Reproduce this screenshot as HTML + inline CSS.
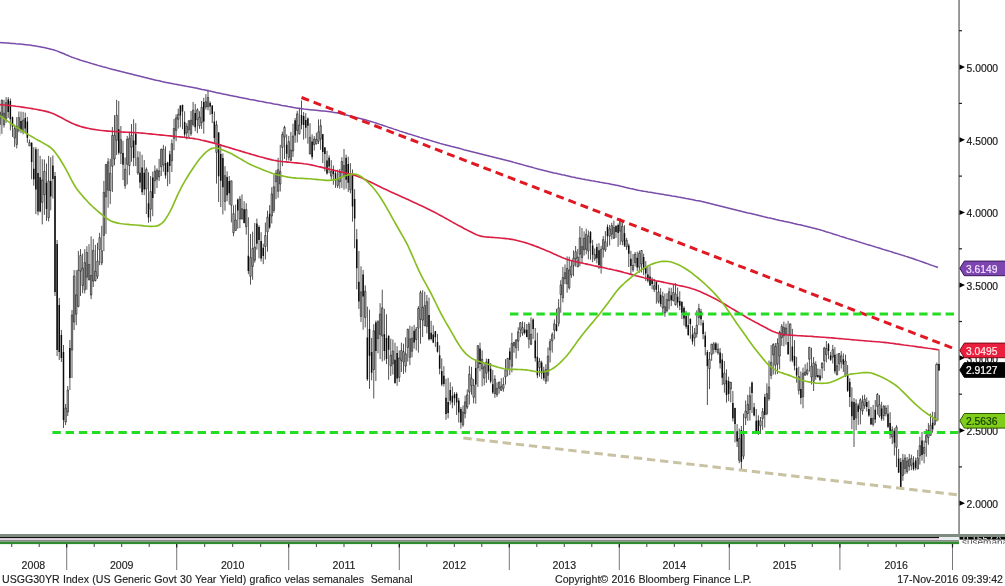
<!DOCTYPE html>
<html><head><meta charset="utf-8"><title>USGG30YR</title><style>
html,body{margin:0;padding:0;background:#fff;width:1005px;height:586px;overflow:hidden}
svg{display:block}
text{font-family:'Liberation Sans',sans-serif}
.ax{font-size:10.3px;fill:#1a1a1a;stroke:#1a1a1a;stroke-width:0.2px}
.lb{font-size:10.3px}
.yr{font-size:10.6px;fill:#222;stroke:#222;stroke-width:0.15px}
.ft{font-size:10.6px;fill:#222;word-spacing:0.4px;stroke:#222;stroke-width:0.15px}
.clip{font-size:8px}
</style></head><body>
<svg width="1005" height="586" viewBox="0 0 1005 586">
<rect width="1005" height="586" fill="#fff"/>
<g clip-path="url(#cp)">
<path d="M-0.25 111.4V135.6M1.88 99.6V133.8M4.00 99.9V127.6M6.12 97.1V122.8M8.25 97.2V117.9M10.38 98.5V130.4M12.50 116.5V136.9M14.62 124.6V146.9M16.75 117.1V148.4M18.88 111.5V132.3M21.00 111.6V133.1M23.12 111.8V134.3M25.25 112.6V132.3M27.38 116.9V142.8M29.50 139.6V145.9M31.62 142.3V179.3M33.75 147.2V185.8M35.88 147.1V214.1M38.00 148.8V215.3M40.12 155.8V212.4M42.25 159.2V224.4M44.38 159.5V214.9M46.50 163.5V220.9M48.62 155.9V221.4M50.75 157.3V210.3M52.88 155.4V198.6M55.00 172.0V296.0M57.12 240.0V356.0M59.25 298.0V360.0M61.38 330.0V362.0M63.50 345.0V428.0M65.62 404.0V425.0M67.75 386.0V416.0M69.88 340.0V390.0M72.00 310.0V378.0M74.12 270.0V330.0M76.25 270.2V325.1M78.38 250.9V307.3M80.50 249.1V296.0M82.62 253.6V293.2M84.75 249.1V293.5M86.88 246.2V289.7M89.00 244.1V280.6M91.12 236.4V299.1M93.25 239.1V287.0M95.38 244.8V281.4M97.50 242.9V279.0M99.62 232.8V265.2M101.75 225.8V265.2M103.88 180.9V251.2M106.00 163.9V233.9M108.12 158.2V207.7M110.25 158.8V204.1M112.38 127.0V192.0M114.50 115.2V165.3M116.62 99.8V155.0M118.75 101.0V154.6M120.88 126.0V164.0M123.00 140.9V180.1M125.12 157.5V188.8M127.25 135.9V184.4M129.38 131.9V175.2M131.50 124.1V161.8M133.62 119.3V166.2M135.75 123.2V166.1M137.88 151.1V174.8M140.00 151.7V188.4M142.12 154.8V195.0M144.25 160.0V195.1M146.38 167.5V214.0M148.50 172.3V222.7M150.62 176.1V221.7M152.75 171.6V216.2M154.88 165.5V193.9M157.00 168.3V188.1M159.12 158.8V181.0M161.25 148.4V176.0M163.38 144.9V171.8M165.50 146.3V178.7M167.62 161.7V186.2M169.75 150.8V183.9M171.88 139.3V172.0M174.00 118.9V150.2M176.12 114.4V141.2M178.25 108.6V128.6M180.38 105.4V127.3M182.50 104.6V129.2M184.62 111.3V137.9M186.75 123.2V139.3M188.88 120.4V138.1M191.00 111.0V135.8M193.12 101.9V126.4M195.25 103.9V131.2M197.38 108.3V133.2M199.50 111.2V128.8M201.62 101.0V128.9M203.75 97.8V133.7M205.88 94.2V109.5M208.00 89.5V110.4M210.12 101.4V114.8M212.25 105.4V123.0M214.38 111.5V142.9M216.50 120.7V183.6M218.62 132.1V202.0M220.75 144.3V207.0M222.88 153.4V214.4M225.00 166.2V210.7M227.12 171.3V201.2M229.25 176.0V204.7M231.38 180.8V222.4M233.50 205.3V236.2M235.62 204.6V230.5M237.75 198.5V228.8M239.88 196.0V228.1M242.00 194.3V219.6M244.12 201.1V223.4M246.25 203.2V234.6M248.38 217.3V274.1M250.50 234.0V284.7M252.62 231.6V279.8M254.75 223.0V262.7M256.88 218.6V249.7M259.00 225.3V258.4M261.12 232.2V261.5M263.25 243.7V264.1M265.38 222.5V259.5M267.50 210.7V251.7M269.62 205.2V228.8M271.75 187.2V223.5M273.88 175.0V212.9M276.00 169.9V199.2M278.12 157.8V197.8M280.25 144.8V191.5M282.38 131.7V166.1M284.50 125.7V159.0M286.62 134.4V160.6M288.75 135.9V160.5M290.88 131.9V161.0M293.00 123.7V156.9M295.12 118.0V142.8M297.25 110.9V142.5M299.38 107.7V134.5M301.50 100.5V129.3M303.62 111.9V139.6M305.75 113.1V138.3M307.88 117.4V143.7M310.00 123.2V154.1M312.12 134.4V159.5M314.25 136.1V150.5M316.38 132.7V144.3M318.50 119.4V144.0M320.62 119.3V149.8M322.75 133.9V163.2M324.88 147.0V171.4M327.00 150.8V174.5M329.12 155.3V173.3M331.25 160.2V179.7M333.38 165.5V184.8M335.50 170.6V187.9M337.62 169.6V188.0M339.75 168.9V188.7M341.88 157.2V187.9M344.00 149.0V189.7M346.12 154.6V188.7M348.25 156.7V191.9M350.38 163.1V193.3M352.50 169.5V221.7M354.62 189.2V248.3M356.75 229.1V289.4M358.88 251.0V308.9M361.00 266.3V322.1M363.12 269.9V329.7M365.25 285.4V327.4M367.38 306.6V380.9M369.50 309.7V388.9M371.62 337.9V380.3M373.75 324.2V398.5M375.88 320.6V381.0M378.00 320.2V353.3M380.12 303.2V359.1M382.25 289.7V361.5M384.38 308.9V360.5M386.50 314.3V364.1M388.62 335.4V379.8M390.75 338.6V375.9M392.88 339.5V374.5M395.00 342.7V383.7M397.12 346.2V385.8M399.25 350.4V382.0M401.38 342.6V372.0M403.50 343.7V374.0M405.62 337.3V372.4M407.75 328.7V361.6M409.88 325.7V365.2M412.00 326.5V357.3M414.12 324.9V348.6M416.25 327.0V350.4M418.38 306.1V352.6M420.50 290.6V343.7M422.62 290.2V337.0M424.75 291.7V326.0M426.88 295.0V333.4M429.00 297.6V340.5M431.12 320.8V340.3M433.25 325.4V343.2M435.38 330.9V346.9M437.50 333.9V352.6M439.62 345.4V374.4M441.75 358.4V386.2M443.88 366.2V386.5M446.00 378.7V419.9M448.12 377.8V418.3M450.25 382.3V404.7M452.38 386.6V408.3M454.50 392.2V405.4M456.62 392.2V415.0M458.75 397.9V422.5M460.88 407.0V428.7M463.00 405.4V426.8M465.12 395.6V418.3M467.25 389.4V409.0M469.38 365.8V404.5M471.50 366.8V394.7M473.62 379.0V403.4M475.75 359.9V403.7M477.88 345.5V386.9M480.00 342.6V371.2M482.12 350.4V386.3M484.25 364.1V385.3M486.38 358.5V382.9M488.50 358.8V379.8M490.62 363.0V383.3M492.75 369.9V393.9M494.88 375.2V397.9M497.00 382.4V396.9M499.12 381.6V393.7M501.25 378.2V391.0M503.38 377.3V391.7M505.50 359.1V384.6M507.62 357.9V376.3M509.75 347.7V375.1M511.88 332.8V372.4M514.00 341.8V352.7M516.12 339.6V358.5M518.25 327.3V350.9M520.38 322.3V337.2M522.50 321.4V335.8M524.62 322.3V334.6M526.75 324.0V337.2M528.88 322.2V348.3M531.00 317.4V345.2M533.12 318.4V339.0M535.25 328.0V361.7M537.38 332.7V378.2M539.50 358.1V376.7M541.62 360.7V379.1M543.75 366.7V380.5M545.88 364.2V384.0M548.00 347.5V381.5M550.12 338.8V362.4M552.25 332.4V352.6M554.38 319.3V339.3M556.50 308.8V331.5M558.62 299.1V326.4M560.75 280.2V312.7M562.88 266.9V302.4M565.00 264.4V284.2M567.12 256.4V292.7M569.25 256.7V289.6M571.38 261.0V277.9M573.50 250.4V276.3M575.62 246.0V266.6M577.75 249.0V267.3M579.88 226.2V266.3M582.00 228.0V262.7M584.12 231.4V255.5M586.25 228.7V254.3M588.38 230.5V259.3M590.50 231.0V259.8M592.62 239.9V262.2M594.75 248.5V260.9M596.88 243.7V263.4M599.00 243.2V269.0M601.12 245.8V273.6M603.25 236.1V257.5M605.38 231.1V251.8M607.50 224.4V246.8M609.62 224.9V245.5M611.75 222.7V239.4M613.88 220.6V238.9M616.00 225.7V237.9M618.12 223.4V246.8M620.25 218.3V244.8M622.38 220.2V245.2M624.50 225.3V247.0M626.62 237.9V249.9M628.75 243.5V267.0M630.88 250.8V274.3M633.00 254.1V271.9M635.12 252.0V266.3M637.25 251.6V270.9M639.38 250.5V272.8M641.50 250.2V272.5M643.62 253.7V275.1M645.75 261.1V281.1M647.88 265.9V282.5M650.00 266.3V285.7M652.12 277.3V289.3M654.25 278.8V292.0M656.38 281.5V303.7M658.50 284.7V303.4M660.62 288.2V306.7M662.75 291.7V313.7M664.88 293.5V316.8M667.00 293.1V312.4M669.12 287.7V309.4M671.25 287.8V306.1M673.38 284.4V301.4M675.50 283.2V305.5M677.62 287.5V307.7M679.75 291.3V310.2M681.88 301.1V319.0M684.00 306.3V325.6M686.12 310.8V328.8M688.25 313.0V335.8M690.38 318.6V338.9M692.50 325.8V344.6M694.62 328.0V346.4M696.75 310.4V337.5M698.88 303.8V325.2M701.00 308.9V325.5M703.12 320.2V339.2M705.25 331.7V355.4M707.38 350.0V405.0M709.50 352.0V389.1M711.62 343.9V360.8M713.75 342.1V353.8M715.88 342.0V352.5M718.00 343.4V354.7M720.12 348.0V368.5M722.25 353.3V385.1M724.38 361.0V392.7M726.50 369.3V402.6M728.62 376.7V401.2M730.75 381.8V402.4M732.88 391.0V421.4M735.00 407.7V442.3M737.12 424.1V447.0M739.25 428.6V463.2M741.38 426.0V470.0M743.50 413.6V459.4M745.62 400.5V425.0M747.75 394.8V420.9M749.88 386.7V420.6M752.00 381.6V413.1M754.12 402.9V416.4M756.25 409.0V433.1M758.38 415.3V434.9M760.50 417.0V433.9M762.62 408.0V429.8M764.75 393.8V427.6M766.88 383.3V415.2M769.00 360.5V400.7M771.12 345.1V379.1M773.25 343.2V374.5M775.38 343.0V374.5M777.50 338.4V374.0M779.62 330.7V369.3M781.75 324.1V345.9M783.88 321.6V346.4M786.00 323.6V344.7M788.12 320.9V354.7M790.25 323.8V361.5M792.38 328.9V362.3M794.50 340.1V370.4M796.62 356.8V382.7M798.75 366.7V394.5M800.88 371.4V404.4M803.00 367.6V408.3M805.12 364.2V375.9M807.25 362.4V375.5M809.38 347.2V371.7M811.50 347.8V384.5M813.62 357.0V391.0M815.75 361.3V379.8M817.88 368.5V377.5M820.00 368.9V381.3M822.12 362.7V378.3M824.25 346.8V371.0M826.38 341.0V362.4M828.50 343.0V359.2M830.62 351.9V360.9M832.75 344.9V363.5M834.88 347.2V373.5M837.00 353.6V375.1M839.12 353.2V370.8M841.25 351.1V368.5M843.38 353.4V371.9M845.50 354.7V377.1M847.62 365.0V391.9M849.75 378.3V407.0M851.88 387.3V429.2M854.00 398.0V447.0M856.12 399.3V430.3M858.25 403.4V424.9M860.38 398.3V424.4M862.50 395.3V414.6M864.62 394.6V408.9M866.75 397.3V411.6M868.88 400.6V416.8M871.00 406.9V424.7M873.12 404.9V426.4M875.25 400.1V423.1M877.38 393.0V414.7M879.50 395.1V417.6M881.62 401.9V420.8M883.75 405.2V420.6M885.88 405.4V416.4M888.00 405.1V428.0M890.12 412.2V438.7M892.25 426.4V444.2M894.38 428.2V455.5M896.50 425.2V467.1M898.62 448.9V473.0M900.75 458.0V489.0M902.88 453.9V480.8M905.00 454.4V474.2M907.12 457.0V473.7M909.25 453.9V470.6M911.38 454.7V470.2M913.50 456.3V470.6M915.62 457.6V470.3M917.75 449.9V469.1M919.88 436.7V464.6M922.00 432.0V460.7M924.12 440.5V463.3M926.25 429.0V456.7M928.38 423.1V444.8M930.50 413.7V435.4M932.62 411.7V432.7M934.75 412.1V425.6M936.88 362.5V421.5M939.00 349.4V370.7" stroke="#333" stroke-width="0.85" fill="none"/>
<path d="M-0.95 112.3h1.4V124.6h-1.4ZM1.18 100.3h1.4V115.8h-1.4ZM3.30 113.2h1.4V124.8h-1.4ZM5.42 102.6h1.4V118.8h-1.4ZM13.93 128.6h1.4V138.0h-1.4ZM16.05 126.6h1.4V144.4h-1.4ZM18.18 117.6h1.4V130.1h-1.4ZM22.43 120.1h1.4V131.7h-1.4ZM28.80 142.7h1.4V145.9h-1.4ZM41.55 180.0h1.4V202.4h-1.4ZM43.67 171.4h1.4V194.6h-1.4ZM47.92 181.0h1.4V217.8h-1.4ZM64.92 408.0h1.4V422.0h-1.4ZM67.05 390.0h1.4V412.0h-1.4ZM71.30 315.0h1.4V350.0h-1.4ZM73.42 276.0h1.4V322.0h-1.4ZM75.55 294.8h1.4V314.2h-1.4ZM77.67 270.1h1.4V306.4h-1.4ZM79.80 255.5h1.4V271.0h-1.4ZM81.92 268.0h1.4V285.5h-1.4ZM84.05 262.6h1.4V289.8h-1.4ZM86.17 252.5h1.4V277.1h-1.4ZM88.30 264.5h1.4V279.5h-1.4ZM90.42 275.5h1.4V295.0h-1.4ZM92.55 250.4h1.4V281.1h-1.4ZM94.67 271.2h1.4V280.6h-1.4ZM96.80 261.0h1.4V276.3h-1.4ZM98.92 237.7h1.4V249.6h-1.4ZM101.05 250.8h1.4V262.8h-1.4ZM103.17 192.4h1.4V235.4h-1.4ZM105.30 164.6h1.4V196.8h-1.4ZM107.42 161.9h1.4V190.1h-1.4ZM109.55 173.3h1.4V190.6h-1.4ZM111.67 135.5h1.4V166.3h-1.4ZM113.80 135.2h1.4V159.0h-1.4ZM115.92 115.3h1.4V140.3h-1.4ZM120.17 139.7h1.4V153.2h-1.4ZM124.42 169.3h1.4V185.5h-1.4ZM126.55 139.3h1.4V164.2h-1.4ZM128.68 138.3h1.4V165.6h-1.4ZM130.80 135.3h1.4V147.1h-1.4ZM137.18 157.8h1.4V173.0h-1.4ZM145.68 169.5h1.4V189.0h-1.4ZM149.93 191.6h1.4V209.2h-1.4ZM154.18 171.4h1.4V180.8h-1.4ZM156.30 170.2h1.4V179.1h-1.4ZM158.43 170.9h1.4V176.6h-1.4ZM160.55 149.5h1.4V166.7h-1.4ZM162.68 149.3h1.4V165.0h-1.4ZM171.18 143.7h1.4V160.7h-1.4ZM173.30 128.5h1.4V138.3h-1.4ZM175.43 117.9h1.4V130.5h-1.4ZM177.55 114.3h1.4V119.3h-1.4ZM186.05 126.3h1.4V132.9h-1.4ZM188.18 120.7h1.4V129.7h-1.4ZM190.30 120.2h1.4V133.6h-1.4ZM192.43 110.1h1.4V124.4h-1.4ZM196.68 109.9h1.4V119.7h-1.4ZM198.80 117.2h1.4V126.0h-1.4ZM200.93 107.3h1.4V122.6h-1.4ZM205.18 101.7h1.4V106.8h-1.4ZM207.30 97.5h1.4V106.7h-1.4ZM215.80 124.9h1.4V152.4h-1.4ZM224.30 175.7h1.4V201.4h-1.4ZM230.68 180.8h1.4V205.2h-1.4ZM232.80 213.6h1.4V232.8h-1.4ZM234.93 220.0h1.4V230.5h-1.4ZM239.18 199.0h1.4V219.0h-1.4ZM241.30 208.8h1.4V218.9h-1.4ZM245.55 209.6h1.4V226.7h-1.4ZM249.80 257.6h1.4V276.3h-1.4ZM251.93 248.5h1.4V266.4h-1.4ZM254.05 247.0h1.4V260.2h-1.4ZM264.68 235.5h1.4V246.6h-1.4ZM266.80 217.2h1.4V231.9h-1.4ZM271.05 193.9h1.4V216.0h-1.4ZM273.18 186.8h1.4V210.4h-1.4ZM275.30 173.1h1.4V181.7h-1.4ZM277.43 169.7h1.4V191.3h-1.4ZM279.55 171.6h1.4V184.0h-1.4ZM281.68 134.5h1.4V147.3h-1.4ZM283.80 127.4h1.4V137.2h-1.4ZM288.05 141.7h1.4V157.3h-1.4ZM290.18 150.1h1.4V160.2h-1.4ZM292.30 136.0h1.4V151.0h-1.4ZM296.55 113.9h1.4V130.4h-1.4ZM298.68 125.0h1.4V133.9h-1.4ZM309.30 137.3h1.4V154.1h-1.4ZM313.55 138.9h1.4V144.7h-1.4ZM315.68 139.4h1.4V144.0h-1.4ZM317.80 131.7h1.4V141.3h-1.4ZM319.93 125.7h1.4V139.1h-1.4ZM330.55 171.2h1.4V176.1h-1.4ZM336.93 179.6h1.4V185.5h-1.4ZM339.05 172.2h1.4V181.9h-1.4ZM341.18 161.5h1.4V170.2h-1.4ZM343.30 165.6h1.4V176.3h-1.4ZM349.68 174.0h1.4V189.7h-1.4ZM360.30 291.9h1.4V316.4h-1.4ZM364.55 291.3h1.4V317.4h-1.4ZM373.05 330.8h1.4V369.5h-1.4ZM377.30 321.7h1.4V338.5h-1.4ZM379.43 314.1h1.4V334.4h-1.4ZM381.55 307.8h1.4V336.0h-1.4ZM390.05 355.2h1.4V365.9h-1.4ZM392.18 351.1h1.4V363.8h-1.4ZM398.55 358.0h1.4V377.4h-1.4ZM400.68 350.5h1.4V360.4h-1.4ZM402.80 351.7h1.4V361.9h-1.4ZM404.93 353.9h1.4V366.1h-1.4ZM407.05 329.3h1.4V347.4h-1.4ZM409.18 338.8h1.4V357.4h-1.4ZM411.30 338.2h1.4V351.2h-1.4ZM415.55 329.4h1.4V339.6h-1.4ZM417.68 308.5h1.4V328.2h-1.4ZM419.80 292.7h1.4V319.5h-1.4ZM421.93 307.4h1.4V320.1h-1.4ZM424.05 305.6h1.4V325.9h-1.4ZM426.18 301.7h1.4V326.4h-1.4ZM462.30 412.1h1.4V424.9h-1.4ZM464.43 401.9h1.4V413.4h-1.4ZM466.55 394.8h1.4V407.1h-1.4ZM468.68 374.2h1.4V392.1h-1.4ZM470.80 378.2h1.4V385.4h-1.4ZM472.93 385.3h1.4V397.3h-1.4ZM477.18 345.6h1.4V367.8h-1.4ZM481.43 359.3h1.4V368.8h-1.4ZM483.55 366.8h1.4V378.1h-1.4ZM485.68 362.0h1.4V373.2h-1.4ZM494.18 379.1h1.4V393.6h-1.4ZM496.30 388.4h1.4V394.6h-1.4ZM498.43 382.1h1.4V388.1h-1.4ZM500.55 386.6h1.4V390.3h-1.4ZM502.68 384.6h1.4V388.4h-1.4ZM504.80 370.0h1.4V377.0h-1.4ZM506.93 358.4h1.4V369.5h-1.4ZM511.18 343.5h1.4V366.2h-1.4ZM513.30 342.5h1.4V345.7h-1.4ZM515.42 339.8h1.4V347.8h-1.4ZM517.55 331.8h1.4V341.2h-1.4ZM519.67 322.6h1.4V330.0h-1.4ZM521.80 327.6h1.4V333.2h-1.4ZM528.17 324.3h1.4V339.2h-1.4ZM530.30 334.3h1.4V344.2h-1.4ZM538.80 361.4h1.4V367.6h-1.4ZM545.17 369.6h1.4V381.2h-1.4ZM547.30 356.1h1.4V375.2h-1.4ZM549.42 341.7h1.4V349.9h-1.4ZM551.55 334.6h1.4V340.9h-1.4ZM553.67 323.8h1.4V330.1h-1.4ZM557.92 307.8h1.4V323.3h-1.4ZM560.05 285.0h1.4V294.5h-1.4ZM562.17 277.6h1.4V297.7h-1.4ZM564.30 272.7h1.4V278.7h-1.4ZM566.42 268.4h1.4V283.7h-1.4ZM568.55 270.0h1.4V287.8h-1.4ZM570.67 266.2h1.4V275.0h-1.4ZM572.80 258.1h1.4V265.6h-1.4ZM574.92 251.7h1.4V258.9h-1.4ZM577.05 257.1h1.4V266.7h-1.4ZM579.17 237.9h1.4V254.1h-1.4ZM581.30 246.6h1.4V257.5h-1.4ZM583.42 238.2h1.4V249.8h-1.4ZM585.55 234.3h1.4V249.2h-1.4ZM587.67 235.9h1.4V251.0h-1.4ZM594.05 254.6h1.4V258.8h-1.4ZM600.42 249.4h1.4V267.1h-1.4ZM602.55 239.6h1.4V249.0h-1.4ZM604.67 241.8h1.4V249.9h-1.4ZM608.92 228.9h1.4V236.1h-1.4ZM611.05 225.7h1.4V234.2h-1.4ZM613.17 227.6h1.4V238.2h-1.4ZM619.55 220.8h1.4V231.1h-1.4ZM621.67 226.2h1.4V241.3h-1.4ZM625.92 240.3h1.4V246.8h-1.4ZM632.30 265.3h1.4V269.8h-1.4ZM634.42 254.3h1.4V262.6h-1.4ZM638.67 253.2h1.4V267.1h-1.4ZM640.80 250.5h1.4V264.0h-1.4ZM653.55 285.8h1.4V289.3h-1.4ZM657.80 291.9h1.4V301.5h-1.4ZM662.05 296.6h1.4V308.0h-1.4ZM664.17 306.8h1.4V312.9h-1.4ZM666.30 299.5h1.4V310.7h-1.4ZM668.42 291.7h1.4V300.8h-1.4ZM672.67 292.5h1.4V300.7h-1.4ZM674.80 293.9h1.4V304.8h-1.4ZM693.92 332.9h1.4V338.0h-1.4ZM696.05 325.3h1.4V333.7h-1.4ZM698.17 308.6h1.4V317.5h-1.4ZM708.80 359.3h1.4V368.6h-1.4ZM710.92 344.1h1.4V354.4h-1.4ZM713.05 343.8h1.4V349.4h-1.4ZM717.30 349.1h1.4V352.8h-1.4ZM723.67 373.1h1.4V384.0h-1.4ZM730.05 382.4h1.4V388.8h-1.4ZM738.55 438.4h1.4V460.2h-1.4ZM742.80 434.6h1.4V456.2h-1.4ZM744.92 411.1h1.4V417.9h-1.4ZM747.05 404.3h1.4V413.5h-1.4ZM749.17 395.7h1.4V409.5h-1.4ZM759.80 420.8h1.4V425.8h-1.4ZM761.92 411.6h1.4V418.5h-1.4ZM766.17 393.7h1.4V413.6h-1.4ZM768.30 387.0h1.4V398.7h-1.4ZM770.42 362.3h1.4V375.4h-1.4ZM772.55 344.4h1.4V355.0h-1.4ZM774.67 346.4h1.4V365.2h-1.4ZM776.80 343.3h1.4V364.2h-1.4ZM778.92 332.4h1.4V356.0h-1.4ZM781.05 326.3h1.4V337.6h-1.4ZM783.17 327.6h1.4V335.9h-1.4ZM785.30 328.0h1.4V334.1h-1.4ZM789.55 323.8h1.4V335.4h-1.4ZM798.05 376.6h1.4V390.4h-1.4ZM802.30 373.4h1.4V396.8h-1.4ZM804.42 372.1h1.4V375.1h-1.4ZM806.55 369.8h1.4V374.0h-1.4ZM808.67 347.2h1.4V359.2h-1.4ZM810.80 366.2h1.4V377.1h-1.4ZM812.92 363.0h1.4V381.2h-1.4ZM815.05 364.7h1.4V376.4h-1.4ZM821.42 362.9h1.4V368.0h-1.4ZM823.55 348.0h1.4V360.8h-1.4ZM825.67 348.4h1.4V354.8h-1.4ZM832.05 349.6h1.4V357.1h-1.4ZM836.30 365.7h1.4V374.9h-1.4ZM838.42 353.5h1.4V363.9h-1.4ZM840.55 355.9h1.4V362.0h-1.4ZM844.80 361.0h1.4V375.3h-1.4ZM855.42 403.8h1.4V417.9h-1.4ZM859.67 399.8h1.4V408.9h-1.4ZM861.80 401.8h1.4V411.0h-1.4ZM863.92 399.2h1.4V405.9h-1.4ZM872.42 418.4h1.4V424.4h-1.4ZM876.67 394.5h1.4V406.4h-1.4ZM878.80 404.7h1.4V415.9h-1.4ZM883.05 406.0h1.4V415.5h-1.4ZM885.17 408.2h1.4V413.5h-1.4ZM891.55 429.8h1.4V437.0h-1.4ZM895.80 427.1h1.4V447.3h-1.4ZM902.17 460.3h1.4V475.4h-1.4ZM904.30 458.1h1.4V468.4h-1.4ZM906.42 461.2h1.4V471.7h-1.4ZM908.55 459.4h1.4V466.3h-1.4ZM910.67 458.5h1.4V465.4h-1.4ZM917.05 457.9h1.4V469.0h-1.4ZM919.17 445.7h1.4V455.9h-1.4ZM923.42 447.4h1.4V453.4h-1.4ZM925.55 435.3h1.4V442.3h-1.4ZM927.67 430.4h1.4V437.5h-1.4ZM929.80 425.3h1.4V435.4h-1.4ZM934.05 418.1h1.4V424.3h-1.4ZM935.67 364.5h2.4V420.0h-2.4Z" fill="#c0c0c0" stroke="#111" stroke-width="0.6"/>
<path d="M7.50 99.6h1.5V111.9h-1.5ZM9.62 100.9h1.5V119.3h-1.5ZM11.75 117.2h1.5V126.8h-1.5ZM20.25 121.1h1.5V130.1h-1.5ZM24.50 118.1h1.5V128.5h-1.5ZM26.62 121.5h1.5V137.7h-1.5ZM30.88 142.7h1.5V161.9h-1.5ZM33.00 168.8h1.5V179.3h-1.5ZM35.12 149.3h1.5V189.4h-1.5ZM37.25 173.1h1.5V211.4h-1.5ZM39.38 177.3h1.5V211.5h-1.5ZM45.75 182.8h1.5V209.0h-1.5ZM50.00 181.1h1.5V196.6h-1.5ZM52.12 165.5h1.5V179.1h-1.5ZM54.25 176.0h1.5V292.0h-1.5ZM56.38 244.0h1.5V350.0h-1.5ZM58.50 305.0h1.5V352.0h-1.5ZM60.62 335.0h1.5V358.0h-1.5ZM62.75 352.0h1.5V420.0h-1.5ZM69.12 348.0h1.5V378.0h-1.5ZM118.00 129.2h1.5V152.8h-1.5ZM122.25 153.1h1.5V164.8h-1.5ZM132.88 140.4h1.5V158.1h-1.5ZM135.00 133.8h1.5V144.8h-1.5ZM139.25 172.7h1.5V182.5h-1.5ZM141.38 167.5h1.5V192.2h-1.5ZM143.50 172.8h1.5V189.6h-1.5ZM147.75 203.2h1.5V217.5h-1.5ZM152.00 177.4h1.5V197.9h-1.5ZM164.75 162.9h1.5V175.4h-1.5ZM166.88 162.5h1.5V172.1h-1.5ZM169.00 154.3h1.5V166.0h-1.5ZM179.62 105.5h1.5V115.4h-1.5ZM181.75 105.0h1.5V111.6h-1.5ZM183.88 122.1h1.5V134.4h-1.5ZM194.50 112.9h1.5V127.2h-1.5ZM203.00 101.9h1.5V121.5h-1.5ZM209.38 102.9h1.5V106.6h-1.5ZM211.50 105.5h1.5V113.9h-1.5ZM213.62 121.6h1.5V138.1h-1.5ZM217.88 132.5h1.5V176.2h-1.5ZM220.00 153.9h1.5V180.8h-1.5ZM222.12 157.9h1.5V187.3h-1.5ZM226.38 177.0h1.5V195.2h-1.5ZM228.50 181.0h1.5V193.3h-1.5ZM237.00 199.4h1.5V210.4h-1.5ZM243.38 209.2h1.5V222.9h-1.5ZM247.62 255.7h1.5V271.0h-1.5ZM256.12 223.5h1.5V243.7h-1.5ZM258.25 227.1h1.5V239.9h-1.5ZM260.38 240.9h1.5V258.6h-1.5ZM262.50 247.8h1.5V256.0h-1.5ZM268.88 213.7h1.5V227.6h-1.5ZM285.88 144.8h1.5V153.7h-1.5ZM294.38 120.2h1.5V135.5h-1.5ZM300.75 115.0h1.5V124.8h-1.5ZM302.88 116.1h1.5V125.1h-1.5ZM305.00 120.0h1.5V127.8h-1.5ZM307.12 118.6h1.5V125.7h-1.5ZM311.38 141.4h1.5V157.1h-1.5ZM322.00 134.2h1.5V152.1h-1.5ZM324.12 147.6h1.5V154.1h-1.5ZM326.25 160.4h1.5V173.4h-1.5ZM328.38 157.7h1.5V166.6h-1.5ZM332.62 168.9h1.5V173.9h-1.5ZM334.75 173.2h1.5V180.2h-1.5ZM345.38 157.8h1.5V179.8h-1.5ZM347.50 164.0h1.5V182.8h-1.5ZM351.75 175.8h1.5V206.5h-1.5ZM353.88 199.0h1.5V218.5h-1.5ZM356.00 239.3h1.5V268.3h-1.5ZM358.12 281.8h1.5V301.6h-1.5ZM362.38 274.4h1.5V296.4h-1.5ZM366.62 337.4h1.5V379.2h-1.5ZM368.75 329.0h1.5V355.7h-1.5ZM370.88 352.0h1.5V372.7h-1.5ZM375.12 322.6h1.5V351.0h-1.5ZM383.62 334.2h1.5V351.1h-1.5ZM385.75 338.0h1.5V358.9h-1.5ZM387.88 335.8h1.5V349.8h-1.5ZM394.25 359.7h1.5V383.1h-1.5ZM396.38 353.0h1.5V378.4h-1.5ZM413.38 330.7h1.5V342.5h-1.5ZM428.25 315.0h1.5V339.2h-1.5ZM430.38 332.8h1.5V338.9h-1.5ZM432.50 334.4h1.5V342.4h-1.5ZM434.62 331.3h1.5V337.3h-1.5ZM436.75 341.9h1.5V351.7h-1.5ZM438.88 355.3h1.5V368.7h-1.5ZM441.00 371.1h1.5V384.5h-1.5ZM443.12 375.8h1.5V384.0h-1.5ZM445.25 397.8h1.5V414.0h-1.5ZM447.38 402.0h1.5V412.9h-1.5ZM449.50 390.0h1.5V400.8h-1.5ZM451.62 395.8h1.5V402.6h-1.5ZM453.75 394.3h1.5V398.3h-1.5ZM455.88 393.7h1.5V402.6h-1.5ZM458.00 400.5h1.5V412.4h-1.5ZM460.12 409.0h1.5V422.5h-1.5ZM475.00 368.1h1.5V384.5h-1.5ZM479.25 348.5h1.5V364.1h-1.5ZM487.75 358.9h1.5V371.6h-1.5ZM489.88 368.7h1.5V381.4h-1.5ZM492.00 384.2h1.5V392.5h-1.5ZM509.00 351.6h1.5V359.7h-1.5ZM523.88 329.5h1.5V333.1h-1.5ZM526.00 329.8h1.5V337.1h-1.5ZM532.38 319.6h1.5V328.9h-1.5ZM534.50 340.5h1.5V358.3h-1.5ZM536.62 356.7h1.5V375.2h-1.5ZM540.88 362.4h1.5V373.5h-1.5ZM543.00 370.7h1.5V378.3h-1.5ZM555.75 324.3h1.5V330.9h-1.5ZM589.75 232.0h1.5V243.3h-1.5ZM591.88 245.4h1.5V254.7h-1.5ZM596.12 247.0h1.5V258.2h-1.5ZM598.25 250.2h1.5V265.0h-1.5ZM606.75 226.8h1.5V236.2h-1.5ZM615.25 225.8h1.5V231.9h-1.5ZM617.38 225.0h1.5V233.1h-1.5ZM623.75 233.2h1.5V245.5h-1.5ZM628.00 245.6h1.5V253.7h-1.5ZM630.12 258.8h1.5V266.0h-1.5ZM636.50 257.7h1.5V267.4h-1.5ZM642.88 256.9h1.5V269.6h-1.5ZM645.00 266.9h1.5V273.6h-1.5ZM647.12 274.6h1.5V280.7h-1.5ZM649.25 276.6h1.5V285.4h-1.5ZM651.38 279.5h1.5V284.1h-1.5ZM655.62 281.6h1.5V289.8h-1.5ZM659.88 294.7h1.5V303.9h-1.5ZM670.50 295.3h1.5V300.3h-1.5ZM676.88 296.7h1.5V302.6h-1.5ZM679.00 301.0h1.5V305.7h-1.5ZM681.12 302.0h1.5V312.7h-1.5ZM683.25 308.0h1.5V318.5h-1.5ZM685.38 316.1h1.5V326.8h-1.5ZM687.50 325.0h1.5V334.9h-1.5ZM689.62 318.8h1.5V324.0h-1.5ZM691.75 334.4h1.5V341.4h-1.5ZM700.25 311.4h1.5V319.3h-1.5ZM702.38 322.8h1.5V333.9h-1.5ZM704.50 335.5h1.5V347.0h-1.5ZM706.62 352.0h1.5V366.0h-1.5ZM715.12 343.4h1.5V349.9h-1.5ZM719.38 352.6h1.5V363.2h-1.5ZM721.50 359.6h1.5V377.7h-1.5ZM725.75 380.3h1.5V395.0h-1.5ZM727.88 380.9h1.5V393.9h-1.5ZM732.12 402.9h1.5V418.2h-1.5ZM734.25 408.1h1.5V423.9h-1.5ZM736.38 431.3h1.5V441.5h-1.5ZM740.62 430.0h1.5V462.0h-1.5ZM751.25 382.4h1.5V393.0h-1.5ZM753.38 407.3h1.5V415.6h-1.5ZM755.50 420.7h1.5V432.9h-1.5ZM757.62 420.3h1.5V432.5h-1.5ZM764.00 396.9h1.5V415.0h-1.5ZM787.38 341.9h1.5V354.3h-1.5ZM791.62 346.5h1.5V360.6h-1.5ZM793.75 356.0h1.5V365.7h-1.5ZM795.88 368.1h1.5V375.5h-1.5ZM800.12 388.9h1.5V398.0h-1.5ZM817.12 374.9h1.5V377.2h-1.5ZM819.25 375.5h1.5V379.8h-1.5ZM827.75 344.3h1.5V351.0h-1.5ZM829.88 355.4h1.5V359.7h-1.5ZM834.12 354.8h1.5V371.3h-1.5ZM842.62 359.2h1.5V364.4h-1.5ZM846.88 374.4h1.5V390.7h-1.5ZM849.00 382.1h1.5V397.0h-1.5ZM851.12 401.5h1.5V416.2h-1.5ZM853.25 402.0h1.5V420.0h-1.5ZM857.50 405.4h1.5V411.8h-1.5ZM866.00 402.1h1.5V407.0h-1.5ZM868.12 409.1h1.5V415.4h-1.5ZM870.25 418.1h1.5V424.6h-1.5ZM874.50 409.8h1.5V419.6h-1.5ZM880.88 408.4h1.5V418.7h-1.5ZM887.25 413.8h1.5V426.7h-1.5ZM889.38 423.0h1.5V434.5h-1.5ZM893.62 431.1h1.5V442.7h-1.5ZM897.88 458.5h1.5V472.6h-1.5ZM900.00 462.0h1.5V488.0h-1.5ZM912.75 462.6h1.5V469.2h-1.5ZM914.88 460.4h1.5V467.7h-1.5ZM921.25 440.6h1.5V455.0h-1.5ZM931.88 422.7h1.5V429.3h-1.5ZM938.25 364.0h1.5V370.5h-1.5Z" fill="#0a0a0a"/>
<polyline points="0.0,42.5 2.0,42.7 4.0,42.8 6.0,43.0 8.0,43.1 10.0,43.3 12.0,43.5 14.0,43.6 16.0,43.8 18.0,43.9 20.0,44.1 22.0,44.3 24.0,44.5 26.0,44.7 28.0,44.9 30.0,45.1 32.0,45.4 34.0,45.7 36.0,46.1 38.0,46.4 40.0,46.8 42.0,47.2 44.0,47.6 46.0,48.0 48.0,48.4 50.0,48.9 52.0,49.4 54.0,50.0 56.0,50.6 58.0,51.4 60.0,52.2 62.0,53.0 64.0,53.8 66.0,54.7 68.0,55.5 70.0,56.4 72.0,57.2 74.0,57.9 76.0,58.6 78.0,59.3 80.0,60.0 82.0,60.6 84.0,61.2 86.0,61.8 88.0,62.4 90.0,63.0 92.0,63.6 94.0,64.2 96.0,64.8 98.0,65.4 100.0,65.9 102.0,66.5 104.0,67.1 106.0,67.6 108.0,68.1 110.0,68.7 112.0,69.2 114.0,69.7 116.0,70.2 118.0,70.7 120.0,71.2 122.0,71.7 124.0,72.2 126.0,72.7 128.0,73.2 130.0,73.7 132.0,74.2 134.0,74.7 136.0,75.2 138.0,75.7 140.0,76.2 142.0,76.7 144.0,77.2 146.0,77.7 148.0,78.2 150.0,78.7 152.0,79.2 154.0,79.7 156.0,80.2 158.0,80.6 160.0,81.1 162.0,81.6 164.0,82.0 166.0,82.4 168.0,82.8 170.0,83.2 172.0,83.6 174.0,84.0 176.0,84.3 178.0,84.7 180.0,85.1 182.0,85.4 184.0,85.8 186.0,86.2 188.0,86.5 190.0,86.9 192.0,87.3 194.0,87.7 196.0,88.1 198.0,88.5 200.0,88.9 202.0,89.4 204.0,89.8 206.0,90.2 208.0,90.7 210.0,91.1 212.0,91.6 214.0,92.0 216.0,92.5 218.0,92.9 220.0,93.3 222.0,93.8 224.0,94.2 226.0,94.6 228.0,95.0 230.0,95.4 232.0,95.8 234.0,96.2 236.0,96.6 238.0,97.0 240.0,97.4 242.0,97.8 244.0,98.2 246.0,98.6 248.0,99.0 250.0,99.4 252.0,99.7 254.0,100.1 256.0,100.5 258.0,100.9 260.0,101.3 262.0,101.6 264.0,102.0 266.0,102.4 268.0,102.8 270.0,103.1 272.0,103.5 274.0,103.9 276.0,104.2 278.0,104.6 280.0,105.0 282.0,105.4 284.0,105.7 286.0,106.1 288.0,106.5 290.0,106.8 292.0,107.2 294.0,107.6 296.0,107.9 298.0,108.2 300.0,108.5 302.0,108.8 304.0,109.1 306.0,109.3 308.0,109.5 310.0,109.7 312.0,109.9 314.0,110.1 316.0,110.3 318.0,110.5 320.0,110.7 322.0,110.9 324.0,111.1 326.0,111.3 328.0,111.5 330.0,111.8 332.0,112.1 334.0,112.4 336.0,112.7 338.0,113.1 340.0,113.6 342.0,114.0 344.0,114.5 346.0,115.0 348.0,115.5 350.0,116.0 352.0,116.5 354.0,117.0 356.0,117.5 358.0,118.0 360.0,118.5 362.0,119.0 364.0,119.5 366.0,120.0 368.0,120.6 370.0,121.2 372.0,121.8 374.0,122.4 376.0,123.0 378.0,123.7 380.0,124.4 382.0,125.0 384.0,125.7 386.0,126.4 388.0,127.1 390.0,127.7 392.0,128.4 394.0,129.1 396.0,129.7 398.0,130.4 400.0,131.1 402.0,131.7 404.0,132.4 406.0,133.0 408.0,133.7 410.0,134.3 412.0,134.9 414.0,135.5 416.0,136.1 418.0,136.7 420.0,137.4 422.0,138.0 424.0,138.6 426.0,139.2 428.0,139.8 430.0,140.4 432.0,141.0 434.0,141.6 436.0,142.2 438.0,142.8 440.0,143.4 442.0,143.9 444.0,144.5 446.0,145.0 448.0,145.5 450.0,146.0 452.0,146.6 454.0,147.1 456.0,147.6 458.0,148.1 460.0,148.6 462.0,149.1 464.0,149.7 466.0,150.2 468.0,150.7 470.0,151.2 472.0,151.7 474.0,152.2 476.0,152.7 478.0,153.2 480.0,153.7 482.0,154.2 484.0,154.7 486.0,155.2 488.0,155.7 490.0,156.3 492.0,156.8 494.0,157.3 496.0,157.8 498.0,158.3 500.0,158.8 502.0,159.3 504.0,159.8 506.0,160.3 508.0,160.8 510.0,161.3 512.0,161.8 514.0,162.4 516.0,162.9 518.0,163.5 520.0,164.0 522.0,164.6 524.0,165.1 526.0,165.7 528.0,166.2 530.0,166.8 532.0,167.3 534.0,167.9 536.0,168.4 538.0,169.0 540.0,169.5 542.0,170.0 544.0,170.5 546.0,171.0 548.0,171.5 550.0,172.0 552.0,172.4 554.0,172.9 556.0,173.3 558.0,173.8 560.0,174.2 562.0,174.7 564.0,175.1 566.0,175.6 568.0,176.0 570.0,176.4 572.0,176.9 574.0,177.3 576.0,177.8 578.0,178.2 580.0,178.6 582.0,179.0 584.0,179.3 586.0,179.7 588.0,180.0 590.0,180.4 592.0,180.8 594.0,181.1 596.0,181.5 598.0,181.8 600.0,182.2 602.0,182.5 604.0,182.9 606.0,183.3 608.0,183.6 610.0,184.0 612.0,184.4 614.0,184.8 616.0,185.2 618.0,185.6 620.0,186.1 622.0,186.5 624.0,187.0 626.0,187.5 628.0,187.9 630.0,188.4 632.0,188.8 634.0,189.3 636.0,189.7 638.0,190.2 640.0,190.6 642.0,190.9 644.0,191.3 646.0,191.6 648.0,192.0 650.0,192.3 652.0,192.6 654.0,192.9 656.0,193.3 658.0,193.6 660.0,193.9 662.0,194.2 664.0,194.6 666.0,194.9 668.0,195.2 670.0,195.5 672.0,195.9 674.0,196.2 676.0,196.6 678.0,197.0 680.0,197.3 682.0,197.7 684.0,198.1 686.0,198.5 688.0,198.8 690.0,199.2 692.0,199.6 694.0,200.0 696.0,200.4 698.0,200.7 700.0,201.1 702.0,201.6 704.0,202.0 706.0,202.4 708.0,202.9 710.0,203.4 712.0,203.9 714.0,204.4 716.0,204.9 718.0,205.4 720.0,205.9 722.0,206.4 724.0,206.9 726.0,207.4 728.0,207.9 730.0,208.4 732.0,208.9 734.0,209.4 736.0,209.9 738.0,210.4 740.0,210.9 742.0,211.4 744.0,211.9 746.0,212.4 748.0,212.9 750.0,213.3 752.0,213.8 754.0,214.3 756.0,214.8 758.0,215.3 760.0,215.8 762.0,216.3 764.0,216.8 766.0,217.2 768.0,217.7 770.0,218.1 772.0,218.6 774.0,219.0 776.0,219.5 778.0,219.9 780.0,220.4 782.0,220.8 784.0,221.3 786.0,221.7 788.0,222.1 790.0,222.6 792.0,223.0 794.0,223.5 796.0,223.9 798.0,224.4 800.0,224.8 802.0,225.3 804.0,225.8 806.0,226.2 808.0,226.7 810.0,227.2 812.0,227.7 814.0,228.2 816.0,228.7 818.0,229.3 820.0,229.8 822.0,230.4 824.0,231.0 826.0,231.7 828.0,232.3 830.0,232.9 832.0,233.5 834.0,234.2 836.0,234.8 838.0,235.4 840.0,236.1 842.0,236.7 844.0,237.3 846.0,238.0 848.0,238.6 850.0,239.2 852.0,239.8 854.0,240.4 856.0,241.0 858.0,241.6 860.0,242.3 862.0,242.9 864.0,243.5 866.0,244.1 868.0,244.7 870.0,245.3 872.0,245.9 874.0,246.5 876.0,247.1 878.0,247.7 880.0,248.3 882.0,249.0 884.0,249.6 886.0,250.2 888.0,250.8 890.0,251.4 892.0,252.0 894.0,252.7 896.0,253.3 898.0,253.9 900.0,254.5 902.0,255.1 904.0,255.7 906.0,256.4 908.0,257.0 910.0,257.7 912.0,258.3 914.0,259.0 916.0,259.7 918.0,260.4 920.0,261.1 922.0,261.8 924.0,262.5 926.0,263.2 928.0,263.9 930.0,264.7 932.0,265.4 934.0,266.1 936.0,266.8 938.0,267.5" fill="none" stroke="#7a4caa" stroke-width="1.5"/>
<polyline points="0.0,104.6 2.0,104.8 4.0,105.0 6.0,105.2 8.0,105.4 10.0,105.6 12.0,105.8 14.0,106.0 16.0,106.3 18.0,106.5 20.0,106.8 22.0,107.1 24.0,107.4 26.0,107.7 28.0,108.0 30.0,108.3 32.0,108.6 34.0,109.0 36.0,109.3 38.0,109.7 40.0,110.1 42.0,110.5 44.0,110.9 46.0,111.4 48.0,111.9 50.0,112.5 52.0,113.2 54.0,114.0 56.0,114.9 58.0,115.9 60.0,116.9 62.0,118.0 64.0,119.1 66.0,120.2 68.0,121.2 70.0,122.2 72.0,123.2 74.0,124.1 76.0,124.9 78.0,125.6 80.0,126.3 82.0,126.9 84.0,127.4 86.0,127.9 88.0,128.3 90.0,128.7 92.0,129.1 94.0,129.4 96.0,129.7 98.0,130.0 100.0,130.3 102.0,130.5 104.0,130.8 106.0,130.9 108.0,131.1 110.0,131.3 112.0,131.4 114.0,131.5 116.0,131.6 118.0,131.8 120.0,131.9 122.0,132.0 124.0,132.1 126.0,132.2 128.0,132.3 130.0,132.4 132.0,132.5 134.0,132.6 136.0,132.7 138.0,132.8 140.0,133.0 142.0,133.1 144.0,133.3 146.0,133.5 148.0,133.7 150.0,133.9 152.0,134.1 154.0,134.3 156.0,134.5 158.0,134.7 160.0,134.9 162.0,135.1 164.0,135.3 166.0,135.5 168.0,135.7 170.0,135.9 172.0,136.1 174.0,136.3 176.0,136.5 178.0,136.7 180.0,136.9 182.0,137.1 184.0,137.3 186.0,137.6 188.0,137.8 190.0,138.1 192.0,138.3 194.0,138.6 196.0,139.0 198.0,139.3 200.0,139.7 202.0,140.2 204.0,140.6 206.0,141.1 208.0,141.6 210.0,142.1 212.0,142.6 214.0,143.1 216.0,143.7 218.0,144.3 220.0,144.9 222.0,145.5 224.0,146.1 226.0,146.7 228.0,147.3 230.0,147.9 232.0,148.5 234.0,149.1 236.0,149.7 238.0,150.3 240.0,150.9 242.0,151.5 244.0,152.1 246.0,152.7 248.0,153.3 250.0,153.9 252.0,154.5 254.0,155.0 256.0,155.6 258.0,156.2 260.0,156.8 262.0,157.3 264.0,157.8 266.0,158.4 268.0,158.9 270.0,159.4 272.0,159.9 274.0,160.3 276.0,160.6 278.0,161.0 280.0,161.2 282.0,161.5 284.0,161.7 286.0,161.9 288.0,162.1 290.0,162.3 292.0,162.5 294.0,162.7 296.0,162.9 298.0,163.1 300.0,163.3 302.0,163.5 304.0,163.8 306.0,164.0 308.0,164.3 310.0,164.7 312.0,165.1 314.0,165.5 316.0,166.0 318.0,166.5 320.0,166.9 322.0,167.4 324.0,167.9 326.0,168.4 328.0,168.9 330.0,169.4 332.0,169.8 334.0,170.3 336.0,170.7 338.0,171.2 340.0,171.6 342.0,172.1 344.0,172.5 346.0,173.0 348.0,173.5 350.0,174.0 352.0,174.5 354.0,175.1 356.0,175.8 358.0,176.5 360.0,177.3 362.0,178.1 364.0,179.0 366.0,179.9 368.0,180.9 370.0,181.8 372.0,182.8 374.0,183.8 376.0,184.8 378.0,185.8 380.0,186.8 382.0,187.8 384.0,188.7 386.0,189.6 388.0,190.5 390.0,191.5 392.0,192.4 394.0,193.3 396.0,194.2 398.0,195.1 400.0,196.0 402.0,196.9 404.0,197.8 406.0,198.7 408.0,199.6 410.0,200.6 412.0,201.5 414.0,202.4 416.0,203.3 418.0,204.3 420.0,205.2 422.0,206.1 424.0,207.0 426.0,207.9 428.0,208.9 430.0,209.9 432.0,210.9 434.0,211.9 436.0,213.0 438.0,214.1 440.0,215.2 442.0,216.3 444.0,217.4 446.0,218.5 448.0,219.6 450.0,220.7 452.0,221.9 454.0,223.0 456.0,224.1 458.0,225.2 460.0,226.2 462.0,227.3 464.0,228.4 466.0,229.4 468.0,230.5 470.0,231.5 472.0,232.5 474.0,233.5 476.0,234.4 478.0,235.2 480.0,235.9 482.0,236.4 484.0,236.7 486.0,237.0 488.0,237.1 490.0,237.3 492.0,237.4 494.0,237.5 496.0,237.7 498.0,237.8 500.0,238.0 502.0,238.2 504.0,238.4 506.0,238.6 508.0,238.8 510.0,239.1 512.0,239.4 514.0,239.8 516.0,240.2 518.0,240.7 520.0,241.2 522.0,241.7 524.0,242.3 526.0,242.9 528.0,243.5 530.0,244.2 532.0,244.9 534.0,245.6 536.0,246.4 538.0,247.1 540.0,247.9 542.0,248.7 544.0,249.6 546.0,250.4 548.0,251.2 550.0,252.1 552.0,253.0 554.0,253.9 556.0,254.8 558.0,255.8 560.0,256.6 562.0,257.5 564.0,258.3 566.0,259.0 568.0,259.6 570.0,260.2 572.0,260.7 574.0,261.2 576.0,261.6 578.0,262.1 580.0,262.6 582.0,263.0 584.0,263.5 586.0,263.9 588.0,264.4 590.0,264.8 592.0,265.2 594.0,265.7 596.0,266.1 598.0,266.6 600.0,267.0 602.0,267.4 604.0,267.8 606.0,268.2 608.0,268.7 610.0,269.1 612.0,269.5 614.0,270.0 616.0,270.4 618.0,270.9 620.0,271.4 622.0,271.9 624.0,272.5 626.0,273.0 628.0,273.5 630.0,274.1 632.0,274.6 634.0,275.1 636.0,275.7 638.0,276.2 640.0,276.7 642.0,277.2 644.0,277.8 646.0,278.3 648.0,278.8 650.0,279.3 652.0,279.7 654.0,280.2 656.0,280.7 658.0,281.1 660.0,281.5 662.0,281.9 664.0,282.4 666.0,282.8 668.0,283.2 670.0,283.6 672.0,284.0 674.0,284.4 676.0,284.8 678.0,285.3 680.0,285.7 682.0,286.1 684.0,286.5 686.0,287.0 688.0,287.5 690.0,288.0 692.0,288.7 694.0,289.3 696.0,290.0 698.0,290.8 700.0,291.6 702.0,292.5 704.0,293.4 706.0,294.3 708.0,295.3 710.0,296.2 712.0,297.2 714.0,298.2 716.0,299.3 718.0,300.4 720.0,301.5 722.0,302.6 724.0,303.8 726.0,305.0 728.0,306.2 730.0,307.4 732.0,308.6 734.0,309.8 736.0,311.0 738.0,312.2 740.0,313.4 742.0,314.6 744.0,315.8 746.0,317.0 748.0,318.2 750.0,319.3 752.0,320.4 754.0,321.5 756.0,322.6 758.0,323.6 760.0,324.7 762.0,325.7 764.0,326.8 766.0,327.8 768.0,328.9 770.0,329.9 772.0,330.9 774.0,331.8 776.0,332.6 778.0,333.3 780.0,333.9 782.0,334.3 784.0,334.6 786.0,334.8 788.0,335.0 790.0,335.1 792.0,335.3 794.0,335.4 796.0,335.5 798.0,335.7 800.0,335.8 802.0,335.9 804.0,336.0 806.0,336.1 808.0,336.2 810.0,336.3 812.0,336.4 814.0,336.6 816.0,336.7 818.0,336.9 820.0,337.0 822.0,337.2 824.0,337.3 826.0,337.5 828.0,337.6 830.0,337.8 832.0,337.9 834.0,338.1 836.0,338.3 838.0,338.5 840.0,338.6 842.0,338.8 844.0,339.0 846.0,339.2 848.0,339.3 850.0,339.5 852.0,339.7 854.0,339.9 856.0,340.0 858.0,340.2 860.0,340.4 862.0,340.5 864.0,340.7 866.0,340.9 868.0,341.0 870.0,341.2 872.0,341.4 874.0,341.5 876.0,341.7 878.0,341.8 880.0,342.0 882.0,342.2 884.0,342.4 886.0,342.6 888.0,342.8 890.0,343.1 892.0,343.3 894.0,343.6 896.0,343.9 898.0,344.1 900.0,344.4 902.0,344.7 904.0,345.0 906.0,345.2 908.0,345.5 910.0,345.8 912.0,346.0 914.0,346.3 916.0,346.6 918.0,346.9 920.0,347.1 922.0,347.4 924.0,347.7 926.0,348.0 928.0,348.3 930.0,348.5 932.0,348.8 934.0,349.1 936.0,349.4 938.0,349.7 938.7,349.8" fill="none" stroke="#dc1e44" stroke-width="1.65"/>
<polyline points="0.0,115.7 2.0,117.1 4.0,118.5 6.0,119.9 8.0,121.3 10.0,122.8 12.0,124.2 14.0,125.5 16.0,126.9 18.0,128.2 20.0,129.5 22.0,130.7 24.0,131.9 26.0,133.2 28.0,134.4 30.0,135.6 32.0,136.8 34.0,137.9 36.0,139.1 38.0,140.2 40.0,141.3 42.0,142.4 44.0,143.5 46.0,144.6 48.0,145.8 50.0,147.2 52.0,148.9 54.0,150.9 56.0,153.4 58.0,156.2 60.0,159.2 62.0,162.5 64.0,165.8 66.0,169.4 68.0,173.2 70.0,177.1 72.0,180.9 74.0,184.5 76.0,187.7 78.0,190.4 80.0,192.9 82.0,195.3 84.0,197.6 86.0,199.8 88.0,202.0 90.0,204.1 92.0,206.0 94.0,207.8 96.0,209.6 98.0,211.3 100.0,213.0 102.0,214.7 104.0,216.3 106.0,217.9 108.0,219.3 110.0,220.5 112.0,221.4 114.0,222.1 116.0,222.6 118.0,223.1 120.0,223.5 122.0,223.8 124.0,224.0 126.0,224.3 128.0,224.4 130.0,224.6 132.0,224.7 134.0,224.9 136.0,225.0 138.0,225.2 140.0,225.4 142.0,225.6 144.0,225.9 146.0,226.1 148.0,226.3 150.0,226.4 152.0,226.4 154.0,226.3 156.0,226.1 158.0,225.6 160.0,224.6 162.0,223.1 164.0,221.1 166.0,218.4 168.0,215.2 170.0,211.6 172.0,207.6 174.0,203.2 176.0,198.7 178.0,194.2 180.0,190.1 182.0,186.2 184.0,182.6 186.0,179.2 188.0,176.0 190.0,172.8 192.0,169.8 194.0,166.8 196.0,163.9 198.0,161.1 200.0,158.6 202.0,156.2 204.0,154.1 206.0,152.2 208.0,150.6 210.0,149.3 212.0,148.4 214.0,148.0 216.0,148.0 218.0,148.4 220.0,149.0 222.0,149.7 224.0,150.5 226.0,151.3 228.0,152.2 230.0,153.1 232.0,154.1 234.0,155.2 236.0,156.3 238.0,157.5 240.0,158.6 242.0,159.8 244.0,161.0 246.0,162.1 248.0,163.2 250.0,164.2 252.0,165.2 254.0,166.1 256.0,166.9 258.0,167.8 260.0,168.6 262.0,169.4 264.0,170.2 266.0,171.0 268.0,171.8 270.0,172.5 272.0,173.3 274.0,173.9 276.0,174.5 278.0,175.0 280.0,175.5 282.0,175.9 284.0,176.3 286.0,176.7 288.0,177.1 290.0,177.4 292.0,177.7 294.0,177.9 296.0,178.1 298.0,178.2 300.0,178.3 302.0,178.4 304.0,178.5 306.0,178.6 308.0,178.7 310.0,178.8 312.0,179.0 314.0,179.2 316.0,179.4 318.0,179.6 320.0,179.8 322.0,180.0 324.0,180.1 326.0,180.3 328.0,180.3 330.0,180.3 332.0,180.2 334.0,179.9 336.0,179.4 338.0,178.7 340.0,177.8 342.0,177.0 344.0,176.2 346.0,175.5 348.0,174.9 350.0,174.4 352.0,174.0 354.0,174.0 356.0,174.3 358.0,175.0 360.0,176.0 362.0,177.3 364.0,178.8 366.0,180.5 368.0,182.4 370.0,184.4 372.0,186.5 374.0,188.8 376.0,191.2 378.0,193.9 380.0,196.8 382.0,200.0 384.0,203.3 386.0,206.6 388.0,210.1 390.0,213.7 392.0,217.3 394.0,220.9 396.0,224.5 398.0,228.0 400.0,231.5 402.0,234.9 404.0,238.4 406.0,242.0 408.0,245.9 410.0,250.3 412.0,254.9 414.0,259.5 416.0,264.2 418.0,268.6 420.0,272.9 422.0,276.9 424.0,280.6 426.0,284.2 428.0,287.8 430.0,291.5 432.0,295.4 434.0,299.4 436.0,303.5 438.0,307.6 440.0,311.6 442.0,315.5 444.0,319.1 446.0,322.6 448.0,326.0 450.0,329.4 452.0,332.9 454.0,336.4 456.0,340.0 458.0,343.3 460.0,346.4 462.0,349.2 464.0,351.6 466.0,353.8 468.0,355.6 470.0,357.1 472.0,358.4 474.0,359.4 476.0,360.3 478.0,361.1 480.0,361.8 482.0,362.5 484.0,363.1 486.0,363.7 488.0,364.3 490.0,364.8 492.0,365.4 494.0,366.0 496.0,366.6 498.0,367.2 500.0,367.7 502.0,368.2 504.0,368.7 506.0,369.0 508.0,369.2 510.0,369.3 512.0,369.3 514.0,369.4 516.0,369.4 518.0,369.5 520.0,369.5 522.0,369.6 524.0,369.7 526.0,369.9 528.0,370.2 530.0,370.5 532.0,370.9 534.0,371.2 536.0,371.6 538.0,371.8 540.0,372.0 542.0,372.0 544.0,371.8 546.0,371.5 548.0,370.9 550.0,370.1 552.0,369.0 554.0,367.7 556.0,366.3 558.0,364.6 560.0,362.8 562.0,360.9 564.0,358.8 566.0,356.7 568.0,354.3 570.0,351.8 572.0,349.1 574.0,346.3 576.0,343.4 578.0,340.6 580.0,337.9 582.0,335.3 584.0,332.8 586.0,330.3 588.0,327.9 590.0,325.5 592.0,323.1 594.0,320.7 596.0,318.3 598.0,315.9 600.0,313.4 602.0,310.8 604.0,308.2 606.0,305.6 608.0,302.9 610.0,300.2 612.0,297.4 614.0,294.7 616.0,292.1 618.0,289.6 620.0,287.4 622.0,285.4 624.0,283.5 626.0,281.7 628.0,280.0 630.0,278.3 632.0,276.7 634.0,275.1 636.0,273.6 638.0,272.1 640.0,270.8 642.0,269.4 644.0,268.2 646.0,267.0 648.0,265.9 650.0,264.9 652.0,264.1 654.0,263.4 656.0,262.7 658.0,262.2 660.0,261.7 662.0,261.4 664.0,261.3 666.0,261.3 668.0,261.5 670.0,261.8 672.0,262.3 674.0,263.0 676.0,263.7 678.0,264.6 680.0,265.5 682.0,266.6 684.0,267.7 686.0,269.0 688.0,270.3 690.0,271.7 692.0,273.2 694.0,274.8 696.0,276.4 698.0,278.0 700.0,279.7 702.0,281.4 704.0,283.2 706.0,285.0 708.0,286.8 710.0,288.8 712.0,290.8 714.0,292.9 716.0,295.1 718.0,297.4 720.0,299.8 722.0,302.2 724.0,304.8 726.0,307.6 728.0,310.4 730.0,313.3 732.0,316.3 734.0,319.2 736.0,322.2 738.0,325.0 740.0,327.9 742.0,330.7 744.0,333.5 746.0,336.3 748.0,339.2 750.0,341.9 752.0,344.7 754.0,347.4 756.0,350.0 758.0,352.6 760.0,355.1 762.0,357.5 764.0,359.9 766.0,362.2 768.0,364.3 770.0,366.1 772.0,367.7 774.0,369.1 776.0,370.3 778.0,371.4 780.0,372.2 782.0,372.9 784.0,373.6 786.0,374.2 788.0,374.9 790.0,375.6 792.0,376.4 794.0,377.2 796.0,378.0 798.0,378.8 800.0,379.5 802.0,380.2 804.0,380.8 806.0,381.3 808.0,381.7 810.0,382.1 812.0,382.5 814.0,382.8 816.0,383.1 818.0,383.2 820.0,383.3 822.0,383.4 824.0,383.3 826.0,383.2 828.0,382.9 830.0,382.5 832.0,381.8 834.0,381.1 836.0,380.2 838.0,379.3 840.0,378.3 842.0,377.2 844.0,376.2 846.0,375.3 848.0,374.7 850.0,374.2 852.0,373.9 854.0,373.7 856.0,373.5 858.0,373.3 860.0,373.0 862.0,372.8 864.0,372.6 866.0,372.5 868.0,372.6 870.0,372.8 872.0,373.3 874.0,373.9 876.0,374.7 878.0,375.5 880.0,376.3 882.0,377.3 884.0,378.3 886.0,379.3 888.0,380.4 890.0,381.5 892.0,382.7 894.0,384.1 896.0,385.5 898.0,387.2 900.0,389.0 902.0,390.9 904.0,392.9 906.0,394.9 908.0,396.9 910.0,398.9 912.0,400.9 914.0,402.8 916.0,404.7 918.0,406.5 920.0,408.2 922.0,409.8 924.0,411.3 926.0,412.8 928.0,414.2 930.0,415.5 932.0,416.8 934.0,418.1 936.0,419.3 938.0,420.6" fill="none" stroke="#86be20" stroke-width="1.65"/>
<line x1="301.5" y1="97.5" x2="955" y2="349" stroke="#e01822" stroke-width="3" stroke-dasharray="8 5"/>
<line x1="52.4" y1="432.4" x2="959" y2="432.4" stroke="#22dd22" stroke-width="3" stroke-dasharray="8.4 4.8"/>
<line x1="510" y1="314" x2="959" y2="314" stroke="#22dd22" stroke-width="3" stroke-dasharray="8.4 4.8"/>
<line x1="463.3" y1="438.1" x2="958.5" y2="494.9" stroke="#c8c2a2" stroke-width="3" stroke-dasharray="8.4 4.8"/>
</g>
<defs><clipPath id="cp"><rect x="0" y="0" width="958.5" height="534"/></clipPath></defs>
<rect x="958.3" y="0" width="1.5" height="535" fill="#7a7a7a"/>
<path d="M959.5 500.6L965 503.2L959.5 505.8Z" fill="#000"/>
<text x="966.6" y="508.1" class="ax">2.0000</text>
<path d="M959.5 427.9L965 430.5L959.5 433.1Z" fill="#000"/>
<text x="966.6" y="435.4" class="ax">2.5000</text>
<path d="M959.5 355.2L965 357.8L959.5 360.4Z" fill="#000"/>
<text x="966.6" y="362.7" class="ax">3.0000</text>
<path d="M959.5 282.5L965 285.1L959.5 287.7Z" fill="#000"/>
<text x="966.6" y="290.0" class="ax">3.5000</text>
<path d="M959.5 209.9L965 212.5L959.5 215.1Z" fill="#000"/>
<text x="966.6" y="217.4" class="ax">4.0000</text>
<path d="M959.5 137.2L965 139.8L959.5 142.4Z" fill="#000"/>
<text x="966.6" y="144.7" class="ax">4.5000</text>
<path d="M959.5 64.5L965 67.1L959.5 69.7Z" fill="#000"/>
<text x="966.6" y="72.0" class="ax">5.0000</text>
<rect x="959" y="466.3" width="3" height="1.2" fill="#222"/>
<rect x="959" y="393.6" width="3" height="1.2" fill="#222"/>
<rect x="959" y="320.9" width="3" height="1.2" fill="#222"/>
<rect x="959" y="248.2" width="3" height="1.2" fill="#222"/>
<rect x="959" y="175.5" width="3" height="1.2" fill="#222"/>
<rect x="959" y="102.8" width="3" height="1.2" fill="#222"/>
<rect x="959" y="30.1" width="3" height="1.2" fill="#222"/>
<path d="M959.8 268.4L964.3 261.1H1006V275.7H964.3Z" fill="#7d45b0" stroke="#3a1858" stroke-width="1"/><text x="966" y="272.5" class="lb" fill="#f4e4ff" stroke="#f4e4ff" stroke-width="0.2">3.6149</text>
<path d="M959.8 350.4L964.3 343.1H1006V357.7H964.3Z" fill="#ea1f3d" stroke="#7a0a18" stroke-width="1"/><text x="966" y="354.5" class="lb" fill="#ffe8ea" stroke="#ffe8ea" stroke-width="0.2">3.0495</text>
<path d="M959.8 370.0L964.3 362.7H1006V377.3H964.3Z" fill="#000" stroke="#000" stroke-width="1"/><text x="966" y="374.1" class="lb" fill="#fff" stroke="#fff" stroke-width="0.2">2.9127</text>
<path d="M959.8 420.8L964.3 413.5H1006V428.1H964.3Z" fill="#80cc1a" stroke="#2c5a00" stroke-width="1"/><text x="966" y="424.9" class="lb" fill="#123d00" stroke="#123d00" stroke-width="0.2">2.5636</text>
<rect x="0" y="534" width="1005" height="3.2" fill="#7f8b80"/>
<rect x="0" y="537" width="959" height="1.3" fill="#0a0f0a"/>
<rect x="0" y="538.3" width="959" height="1.8" fill="#e4d0e4"/>
<rect x="0" y="540" width="959" height="1.7" fill="#8a8a86"/>
<rect x="0" y="541.7" width="959" height="2.4" fill="#2f8a30"/>
<rect x="939" y="537" width="20" height="3" fill="#e8eef0"/>
<rect x="66.2" y="544" width="1" height="26" fill="#777"/>
<rect x="66.1" y="544" width="1.2" height="3.5" fill="#1a1a1a"/>
<rect x="176.2" y="544" width="1" height="26" fill="#777"/>
<rect x="176.1" y="544" width="1.2" height="3.5" fill="#1a1a1a"/>
<rect x="288.2" y="544" width="1" height="26" fill="#777"/>
<rect x="288.1" y="544" width="1.2" height="3.5" fill="#1a1a1a"/>
<rect x="398.8" y="544" width="1" height="26" fill="#777"/>
<rect x="398.7" y="544" width="1.2" height="3.5" fill="#1a1a1a"/>
<rect x="508.8" y="544" width="1" height="26" fill="#777"/>
<rect x="508.7" y="544" width="1.2" height="3.5" fill="#1a1a1a"/>
<rect x="618.8" y="544" width="1" height="26" fill="#777"/>
<rect x="618.7" y="544" width="1.2" height="3.5" fill="#1a1a1a"/>
<rect x="728.8" y="544" width="1" height="26" fill="#777"/>
<rect x="728.7" y="544" width="1.2" height="3.5" fill="#1a1a1a"/>
<rect x="839.4" y="544" width="1" height="26" fill="#777"/>
<rect x="839.3" y="544" width="1.2" height="3.5" fill="#1a1a1a"/>
<rect x="952.0" y="544" width="1" height="26" fill="#777"/>
<rect x="951.9" y="544" width="1.2" height="3.5" fill="#1a1a1a"/>
<rect x="93.7" y="544" width="1" height="3" fill="#444"/>
<rect x="121.2" y="544" width="1" height="3" fill="#444"/>
<rect x="148.7" y="544" width="1" height="3" fill="#444"/>
<rect x="204.2" y="544" width="1" height="3" fill="#444"/>
<rect x="232.2" y="544" width="1" height="3" fill="#444"/>
<rect x="260.2" y="544" width="1" height="3" fill="#444"/>
<rect x="315.9" y="544" width="1" height="3" fill="#444"/>
<rect x="343.5" y="544" width="1" height="3" fill="#444"/>
<rect x="371.1" y="544" width="1" height="3" fill="#444"/>
<rect x="426.3" y="544" width="1" height="3" fill="#444"/>
<rect x="453.8" y="544" width="1" height="3" fill="#444"/>
<rect x="481.3" y="544" width="1" height="3" fill="#444"/>
<rect x="536.3" y="544" width="1" height="3" fill="#444"/>
<rect x="563.8" y="544" width="1" height="3" fill="#444"/>
<rect x="591.3" y="544" width="1" height="3" fill="#444"/>
<rect x="646.3" y="544" width="1" height="3" fill="#444"/>
<rect x="673.8" y="544" width="1" height="3" fill="#444"/>
<rect x="701.3" y="544" width="1" height="3" fill="#444"/>
<rect x="756.4" y="544" width="1" height="3" fill="#444"/>
<rect x="784.1" y="544" width="1" height="3" fill="#444"/>
<rect x="811.8" y="544" width="1" height="3" fill="#444"/>
<rect x="867.5" y="544" width="1" height="3" fill="#444"/>
<rect x="895.7" y="544" width="1" height="3" fill="#444"/>
<rect x="923.9" y="544" width="1" height="3" fill="#444"/>
<rect x="38.7" y="544" width="1" height="3" fill="#444"/>
<rect x="11.2" y="544" width="1" height="3" fill="#444"/>
<text x="33.4" y="569" class="yr" text-anchor="middle">2008</text>
<text x="121.7" y="569" class="yr" text-anchor="middle">2009</text>
<text x="232.7" y="569" class="yr" text-anchor="middle">2010</text>
<text x="344" y="569" class="yr" text-anchor="middle">2011</text>
<text x="454.3" y="569" class="yr" text-anchor="middle">2012</text>
<text x="564.3" y="569" class="yr" text-anchor="middle">2013</text>
<text x="674.3" y="569" class="yr" text-anchor="middle">2014</text>
<text x="784.6" y="569" class="yr" text-anchor="middle">2015</text>
<text x="896.2" y="569" class="yr" text-anchor="middle">2016</text>
<text x="2" y="582.5" class="ft">USGG30YR Index (US Generic Govt 30 Year Yield) grafico velas semanales&#160; Semanal</text>
<text x="555" y="582.5" class="ft">Copyright&#169; 2016 Bloomberg Finance L.P.</text>
<text x="1003" y="582.5" class="ft" text-anchor="end">17-Nov-2016 09:39:42</text>
<defs><clipPath id="cb1"><rect x="959.5" y="537" width="46" height="2.6"/></clipPath><clipPath id="cb2"><rect x="959.5" y="540.2" width="46" height="3.6"/></clipPath></defs>
<rect x="959.5" y="537" width="46" height="2.6" fill="#050505"/>
<text x="963" y="543.2" clip-path="url(#cb1)" style="font-size:10px;fill:#f0f0f0">0.1657 ^</text>
<text x="962" y="545.6" clip-path="url(#cb2)" style="font-size:10px;fill:#4a4a4a">susemanal</text>
</svg>
</body></html>
